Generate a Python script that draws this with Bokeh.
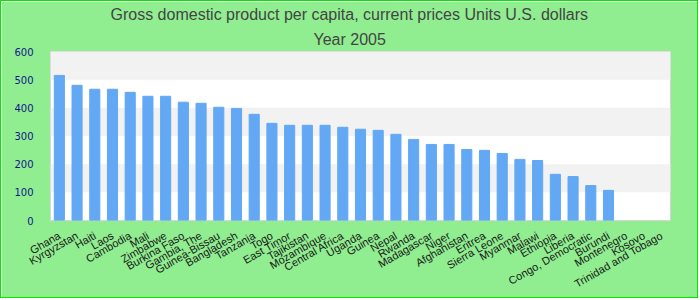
from math import pi, nan
from bokeh.plotting import figure
from bokeh.models import Title, FixedTicker, Range1d, ColumnDataSource
from bokeh.embed import file_html
from bokeh.resources import INLINE

countries = ["Ghana", "Kyrgyzstan", "Haiti", "Laos", "Cambodia", "Mali", "Zimbabwe",
             "Burkina Faso", "Gambia, The", "Guinea-Bissau", "Bangladesh", "Tanzania",
             "Togo", "East Timor", "Tajikistan", "Mozambique", "Central Africa", "Uganda",
             "Guinea", "Nepal", "Rwanda", "Madagascar", "Niger", "Afghanistan", "Eritrea",
             "Sierra Leone", "Myanmar", "Malawi", "Ethiopia", "Liberia", "Congo, Democratic",
             "Burundi", "Montenegro", "Kosovo", "Trinidad and Tobago"]
gdp = [515, 480, 466, 466, 455, 441, 441, 420, 416, 402, 398, 377, 345, 338, 338, 338,
       331, 324, 320, 306, 288, 270, 270, 252, 249, 238, 217, 213, 164, 156, 124, 107,
       nan, nan, nan]
y_ticks = [0, 100, 200, 300, 400, 500, 600]

title_line1 = "Gross domestic product per capita, current prices Units U.S. dollars"
title_line2 = "Year 2005"

source = ColumnDataSource(data=dict(country=countries, gdp=gdp))

p = figure(x_range=countries, y_range=Range1d(0, 600), width=698, height=298,
           output_backend="svg", toolbar_location=None,
           min_border_left=49, min_border_right=29, min_border_top=50, min_border_bottom=79)

p.styles = {"border": "1px solid #00e600"}

p.title.text = title_line1
p.title.text_font = "Liberation Sans"
p.title.text_font_size = "16px"
p.title.text_font_style = "normal"
p.title.text_color = "#444444"
p.title.align = "left"
p.title.offset = 60
p.title.standoff = 4
t2 = Title(text=title_line2, text_font="Liberation Sans", text_font_size="16px",
           text_font_style="normal", text_color="#444444", align="left", offset=263,
           standoff=8)
p.add_layout(t2, "above")

p.border_fill_color = "#90ee90"
p.background_fill_color = "white"
p.outline_line_color = "#d6d6d6"
p.outline_line_width = 1

p.vbar(x="country", top="gdp", width=0.57, source=source, color="#62a8f4")

p.x_range.range_padding = 0
p.xgrid.grid_line_color = None
p.ygrid.grid_line_color = None
p.ygrid.band_fill_color = "#f2f2f2"
p.ygrid.band_fill_alpha = 1

p.yaxis.ticker = FixedTicker(ticks=y_ticks)
p.yaxis.axis_line_color = None
p.yaxis.major_tick_line_color = None
p.yaxis.minor_tick_line_color = None
p.yaxis.major_label_text_font = "DejaVu Sans"
p.yaxis.major_label_text_font_size = "10px"
p.yaxis.major_label_text_color = "#14148c"
p.yaxis.major_label_standoff = 11

p.xaxis.axis_line_color = None
p.xaxis.major_tick_line_color = None
p.xaxis.minor_tick_line_color = None
p.xaxis.major_label_orientation = pi / 6
p.xaxis.major_label_text_font = "Liberation Sans"
p.xaxis.major_label_text_font_size = "11px"
p.xaxis.major_label_text_color = "#1a1a1a"
p.xaxis.major_label_standoff = 8

open("out.html", "w").write(file_html(p, INLINE))
